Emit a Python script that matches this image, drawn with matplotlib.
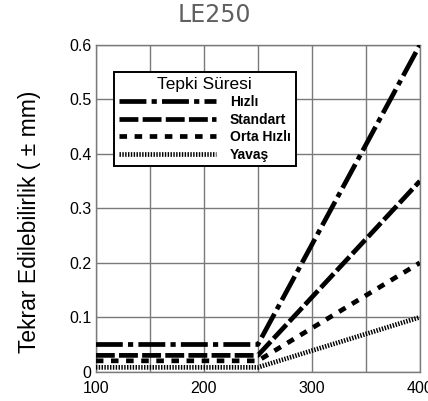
import matplotlib.pyplot as plt

plt.rcParams["font.family"] = ["Liberation Sans", "DejaVu Sans"]

speed = [100, 250, 400]
hizli = [0.05, 0.05, 0.6]
standart = [0.03, 0.03, 0.35]
orta = [0.02, 0.02, 0.2]
yavas = [0.008, 0.008, 0.1]
labels = ["Hızlı", "Standart", "Orta Hızlı", "Yavaş"]
xticks = [100, 150, 200, 250, 300, 350, 400]
xtick_labels = ["100", "", "200", "", "300", "", "400"]
yticks = [0, 0.1, 0.2, 0.3, 0.4, 0.5, 0.6]
ytick_labels = ["0", "0.1", "0.2", "0.3", "0.4", "0.5", "0.6"]

fig = plt.figure(figsize=(4.28, 4.01), dpi=100)
ax = fig.add_axes([0.224, 0.073, 0.757, 0.815])

# line patterns, in units of line width
styles = [(0, (5.7, 1.1, 1.1, 1.1)), (0, (4, 0.9)), (0, (1.6, 1.6)), (0, (0.3, 0.3))]
for y, lab, ls in zip([hizli, standart, orta, yavas], labels, styles):
    ax.plot(speed, y, color="black", linewidth=3.4, linestyle=ls, label=lab,
            dash_capstyle="butt", zorder=3)

ax.set_xlim(100, 400)
ax.set_ylim(0, 0.6)
ax.set_xticks(xticks)
ax.set_xticklabels(xtick_labels)
ax.set_yticks(yticks)
ax.set_yticklabels(ytick_labels)
ax.tick_params(length=0, labelsize=11.5)
ax.tick_params(axis="x", pad=7)
ax.tick_params(axis="y", pad=3)
ax.grid(True, color="#7a7a7a", linewidth=1.0)
for s in ax.spines.values():
    s.set_color("#7a7a7a")
    s.set_linewidth(1.0)

ax.set_ylabel("Tekrar Edilebilirlik ( ± mm)", fontsize=16.5)
ax.yaxis.set_label_coords(-0.168, 0.46)
fig.text(0.5, 0.962, "LE250", ha="center", va="center", fontsize=17,
         color="#606060", family="DejaVu Sans")

leg = ax.legend(loc="upper left", bbox_to_anchor=(0.034, 0.939), title="Tepki Süresi",
                frameon=True, fancybox=False, edgecolor="black", framealpha=1,
                handlelength=7.0, borderpad=0.35, labelspacing=0.25, handletextpad=1.0,
                prop={"size": 10, "weight": "bold"},
                title_fontproperties={"size": 12.5})
leg.get_frame().set_linewidth(1.4)
leg.set_zorder(5)

fig.savefig("out.png", dpi=100, facecolor="white")
